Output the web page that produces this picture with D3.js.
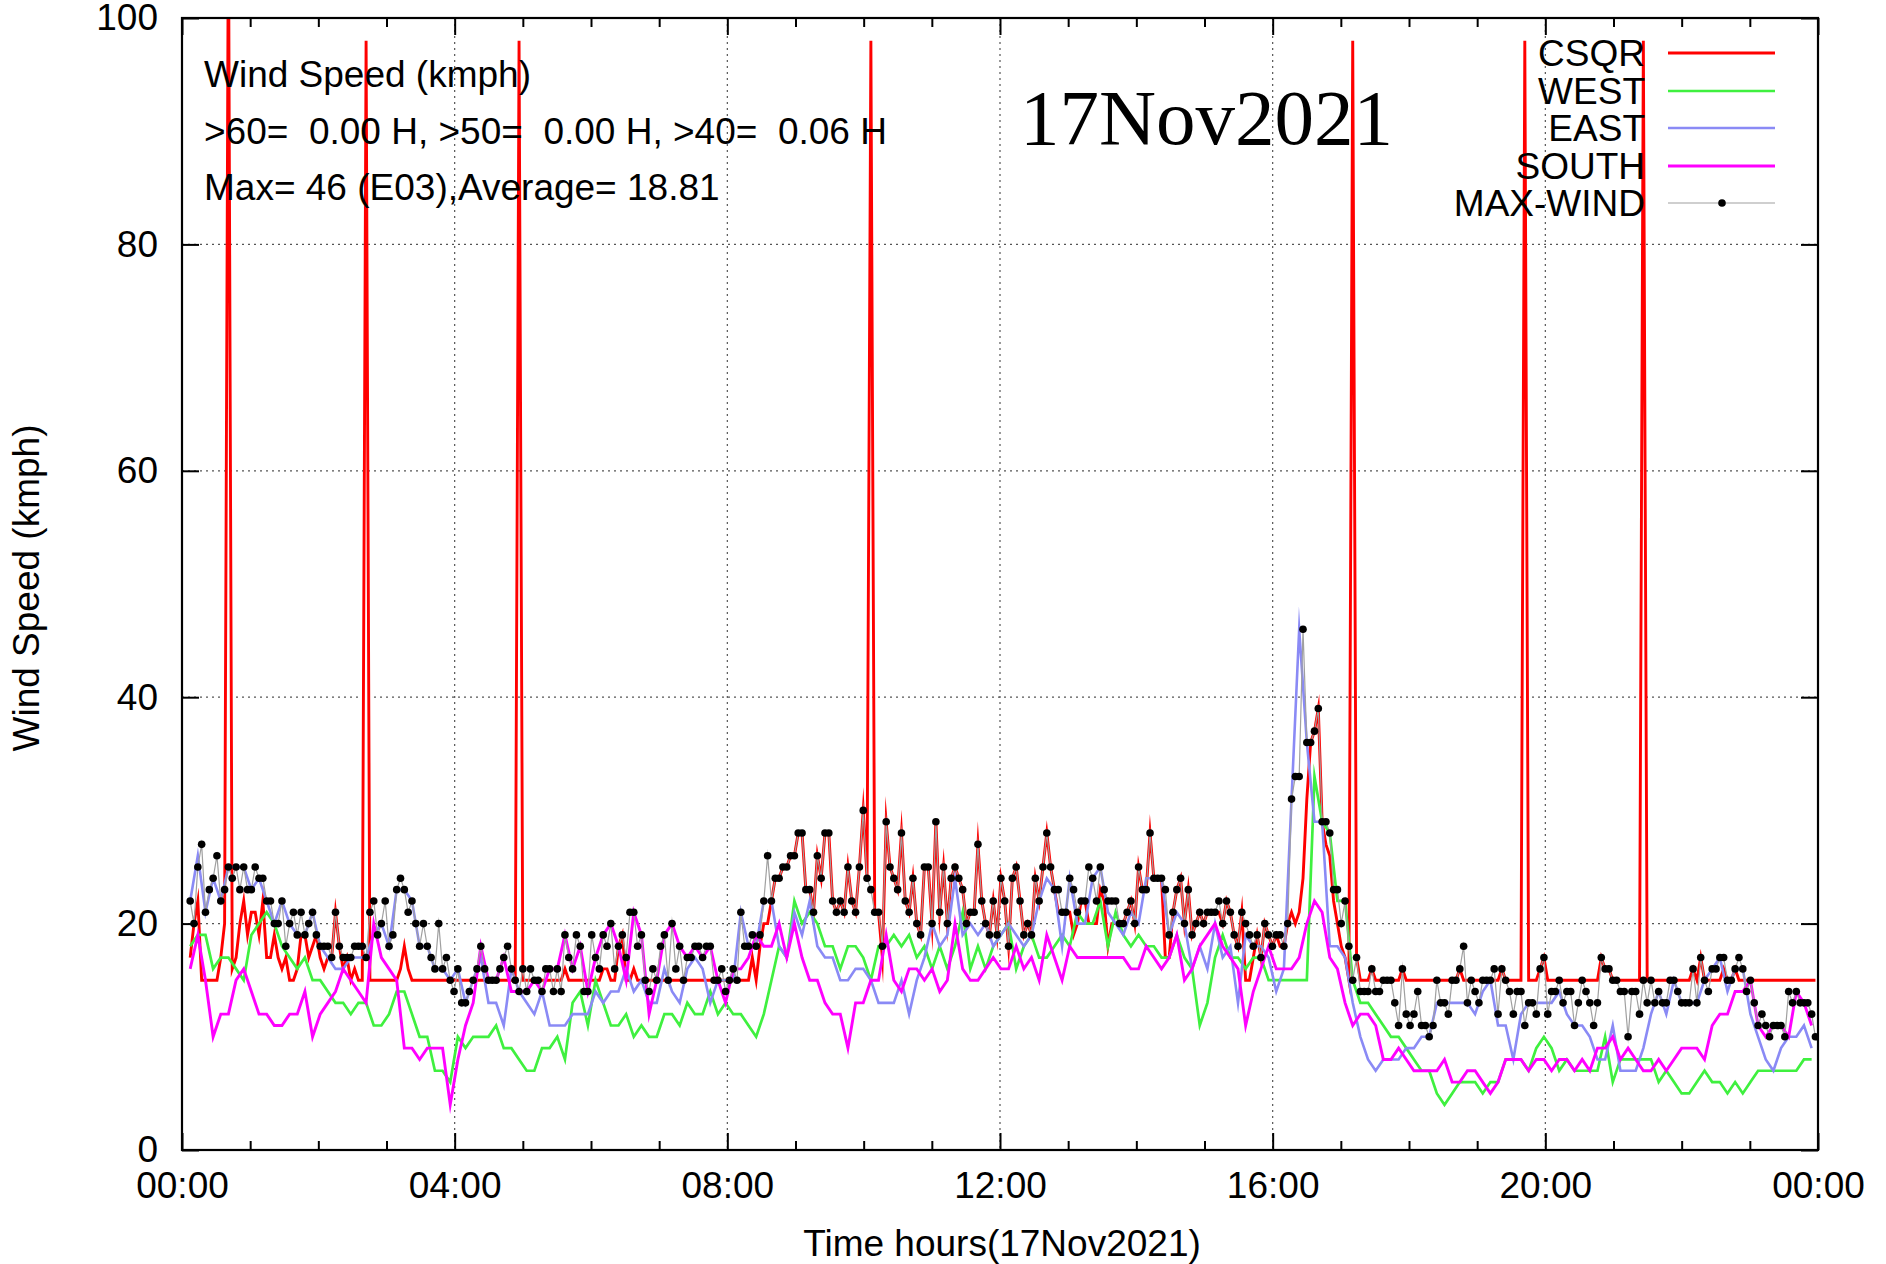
<!DOCTYPE html>
<html>
<head>
<meta charset="utf-8">
<script src="https://cdn.jsdelivr.net/npm/d3@7"></script>
<style>
  html, body { margin: 0; padding: 0; background: #fff; }
  svg { display: block; }
  text { font-family: "Liberation Sans", Arial, sans-serif; }
</style>
</head>
<body>
<svg id="chart" width="1886" height="1264"></svg>
<script>
// ---------------- DATA ----------------
const titleText = "17Nov2021";
const yAxisTitle = "Wind Speed (kmph)";
const xAxisTitle = "Time hours(17Nov2021)";
const infoLines = [
  "Wind Speed (kmph)",
  ">60=  0.00 H, >50=  0.00 H, >40=  0.06 H",
  "Max= 46 (E03),Average= 18.81"
];
const xTickHours = [0, 4, 8, 12, 16, 20, 24];
const xTickLabels = ["00:00", "04:00", "08:00", "12:00", "16:00", "20:00", "00:00"];
const xMinorHours = [1,2,3,5,6,7,9,10,11,13,14,15,17,18,19,21,22,23];
const yTicks = [0, 20, 40, 60, 80, 100];
const seriesNames = ["CSQR", "WEST", "EAST", "SOUTH", "MAX-WIND"];

// sampling: first sample time (hours) and interval between samples (hours)
const startHour = 0.12;
const stepHours = 0.0561;      // CSQR and MAX-WIND every sample
const stepHoursHalf = 0.1122;  // WEST, EAST, SOUTH read every other sample

const csqr = [
  17,20,22,15,15,15,15,15,17,20, 110,16,17,20,22,19,21,21,19,22, 17,17,19,17,16,17,15,15,16,19,
  19,17,18,19,17,16,17,17,21,18, 16,17,15,16,15,15,98,15,15,15, 15,15,15,15,15,16,18,16,15,15,
  15,15,15,15,15,15,15,15,15,15,15,
  15,15,15,15,15,15,15,15,15,15, 15,15,15,15,15,98,15,15,15,15, 15,15,15,15,15,15,15,16,15,15,
  15,15,15,15,15,15,15,16,16,15, 15,18,19,15,15,16,15,15,15,15, 15,15,15,15,15,15,15,15,15,15,
  15,15,15,15,15,15,15,15,15,15, 15,15,
  15,15,15,15,17,15,18,20,20,22, 24,24,25,25,26,26,28,28,23,23, 21,26,24,28,28,22,21,22,21,25,
  22,21,25,30,24,98,21,21,17,29, 25,24,23,28,22,21,24,20,19,25, 25,20,29,21,25,20,24,25,24,23,
  20,21,21,27,22,20,19,22,19,24, 22,18,
  24,25,22,19,20,19,24,22,25,28, 25,23,21,21,21,21,19,20,22,22, 20,20,20,23,22,18,20,20,20,20,
  21,22,20,25,23,23,28,24,24,24, 17,17,21,23,24,20,23,19,20,21, 20,21,21,21,21,20,22,21,19,18,
  21,15,15,17,19,17,20,19,18,19,
  18,18,20,21,20,21,24,31,36,37, 39,29,27,26,22,20,18,17,15,98, 17,15,15,15,16,15,15,15,15,15,
  15,15,16,15,15,15,15,15,15,15, 15,15,15,15,15,15,15,16,15,15, 15,15,15,15,15,15,15,15,16,15,
  15,15,15,15,98,15,15,15,16,17, 15,15,
  15,15,15,15,15,15,15,15,15,15, 15,15,17,16,16,15,15,15,15,15, 15,15,15,98,15,15,15,15,15,15,
  15,15,15,15,15,15,16,15,17,15, 15,15,15,15,16,15,15,16,15,15, 15,15,15,15,15,15,15,15,15,15,
  15,15,15,15,15,15,15,15,15
];

const maxWind = [
  22,20,25,27,21,23,24,26,22,23, 25,24,25,23,25,23,23,25,24,24, 22,22,20,20,22,18,20,21,19,21,
  19,20,21,19,18,18,18,17,21,18, 17,17,17,18,18,18,17,21,22,19, 20,22,18,19,23,24,23,21,22,20,
  18,20,18,17,16,20,16,17,15,14,16,
  13,13,14,15,16,18,16,15,15,15, 16,17,18,16,15,14,16,14,16,15, 15,14,16,16,14,16,14,19,17,16,
  19,18,14,14,19,17,16,19,18,20, 16,18,19,17,21,21,18,19,15,14, 16,15,18,19,15,20,16,18,15,17,
  17,18,18,17,18,18,15,15,16,14, 15,16,
  15,21,18,18,19,18,19,22,26,22, 24,24,25,25,26,26,28,28,23,23, 21,26,24,28,28,22,21,22,21,25,
  22,21,25,30,24,23,21,21,18,29, 25,24,23,28,22,21,24,20,19,25, 25,20,29,21,25,20,24,25,24,23,
  20,21,21,27,22,20,19,22,19,24, 22,18,
  24,25,22,19,20,19,24,22,25,28, 25,23,23,21,21,24,23,21,22,22, 25,24,22,25,23,22,22,22,20,20,
  21,22,20,25,23,23,28,24,24,24, 23,19,21,23,24,20,23,19,20,21, 20,21,21,21,22,20,22,21,19,18,
  21,20,19,18,19,17,20,19,18,19,
  19,18,20,31,33,33,46,36,36,37, 39,29,29,28,23,23,20,22,18,15, 17,14,14,14,16,14,14,15,15,15,
  13,11,16,12,11,12,14,11,11,10, 11,15,13,13,12,15,15,16,18,13, 15,14,13,15,15,15,16,12,16,15,
  14,12,14,14,11,13,13,12,16,17, 12,14,
  14,15,13,14,14,11,13,15,14,13, 11,13,17,16,16,15,15,14,14,10, 14,14,12,15,13,15,13,14,13,13,
  15,15,14,13,13,13,16,13,17,15, 14,16,16,17,17,15,15,16,17,16, 14,15,13,11,12,11,10,11,11,11,
  10,14,13,14,13,13,13,12,10
];

const west = [
  18,19,19,16,17,17,16,15,19,20, 21,20,18,17,16,17,15,15,14,13, 13,12,13,13,11,11,12,14,14,12,
  10,10,7,7,6,10,
  9,10,10,10,11,9,9,8,7,7, 9,9,10,8,13,14,11,15,13,11, 11,12,10,11,10,10,12,12,11,13, 12,12,14,12,13,12,
  12,11,10,12,15,18,17,22,20,21, 20,18,18,16,18,18,17,15,18,18, 19,18,19,17,18,16,18,16,18,21,
  16,18,16,18,19,20,
  16,18,19,17,17,18,19,18,21,20, 20,22,18,21,19,18,19,18,18,17, 17,19,17,16,11,13,17,19,17,17,
  16,17,17,15,15,
  15,15,15,15,33,29,28,22,22,15, 13,13,12,11,10,10,9,8,7,7, 5,4,5,6,6,6,5,6,6,8, 8,8,7,9,10,9,
  7,8,7,7,7,7,10,6,8,8, 8,8,8,6,7,6,5,5,6,7, 6,6,5,6,5,6,7,7,7,7, 7,7,8,8
];

const east = [
  22,26,21,24,22,25,25,25,23,24, 22,20,22,20,19,19,21,18,17,16, 16,17,17,17,19,20,18,23,23,22,
  18,18,16,16,15,16,
  13,15,17,13,13,11,16,14,13,12, 14,11,11,11,12,12,12,14,13,14, 14,16,14,15,13,13,16,14,13,16,
  17,16,13,15,15,15,
  21,18,18,22,22,18,17,21,19,22, 18,17,17,15,15,16,16,15,13,13, 13,15,12,15,17,20,18,19,24,19,
  20,19,20,18,19,20,
  19,18,19,22,24,23,18,24,20,20, 24,25,21,20,19,21,20,24,24,24, 19,21,20,16,18,16,20,17,18,13,
  19,18,18,17,14,
  16,31,46,36,29,29,18,18,17,13, 10,8,7,8,8,8,9,9,10,10, 13,13,13,13,13,12,14,15,11,11,
  8,12,13,13,13,13,
  14,12,11,11,10,8,8,11,7,7, 7,9,12,14,12,15,13,13,13,15, 16,17,14,16,16,12,10,8,7,9, 10,10,11,9
];

const south = [
  16,19,15,10,12,12,15,16,14,12, 12,11,11,12,12,14,10,12,13,14, 16,15,14,13,20,17,16,15,9,9,
  8,9,9,9,4,8,
  11,13,18,15,15,17,14,14,14,15, 14,16,16,19,16,18,14,17,19,20, 18,15,21,19,12,15,19,20,18,17,
  18,17,18,15,13,16,
  16,17,19,18,18,20,17,20,17,15, 15,13,12,12,9,13,13,15,15,19, 15,14,16,16,15,16,14,15,20,16,
  15,15,16,17,16,16,
  18,16,17,15,19,17,15,18,17,17, 17,17,17,17,17,16,16,18,17,16, 17,19,15,16,18,19,20,18,17,16,
  11,14,16,18,16,
  16,16,17,20,22,21,17,16,13,11, 12,12,11,8,8,9,8,7,7,7, 7,8,6,6,7,7,6,5,6,8, 8,8,7,8,8,7,
  8,8,7,8,7,9,9,10,8,9, 8,7,7,8,7,8,9,9,9,8, 11,12,12,14,14,15,11,10,11,11, 10,14,13,11
];

// ---------------- STYLE ----------------
const W = 1886, H = 1264;
const plot = { left: 182, right: 1818, top: 18, bottom: 1150 };
const FONT = 37;
const colors = { CSQR: "#ff0000", WEST: "#3ff03f", EAST: "#8a8af5", SOUTH: "#ff00ff", MAX: "#a0a0a0" };
const widths = { CSQR: 2.9, WEST: 2.7, EAST: 2.6, SOUTH: 2.9, MAX: 1.2 };

const svg = d3.select("#chart");
svg.append("rect").attr("width", W).attr("height", H).attr("fill", "#fff");

const x = d3.scaleLinear().domain([0, 24]).range([plot.left, plot.right]);
const y = d3.scaleLinear().domain([0, 100]).range([plot.bottom, plot.top]);

// clip
svg.append("defs").append("clipPath").attr("id", "clip")
  .append("rect").attr("x", plot.left).attr("y", plot.top)
  .attr("width", plot.right - plot.left).attr("height", plot.bottom - plot.top);

// grid
const grid = svg.append("g").attr("stroke", "#555").attr("stroke-width", 1.2)
  .attr("stroke-dasharray", "2,4");
grid.selectAll("line.gx").data(xTickHours.slice(1, -1)).join("line")
  .attr("x1", d => x(d)).attr("x2", d => x(d)).attr("y1", plot.top).attr("y2", plot.bottom);
grid.selectAll("line.gy").data(yTicks.slice(1, -1)).join("line")
  .attr("y1", d => y(d)).attr("y2", d => y(d)).attr("x1", plot.left).attr("x2", plot.right);

// axes
function styleAxis(g) {
  g.select(".domain").remove();
  g.selectAll(".tick line").attr("stroke", "#000").attr("stroke-width", 2);
  g.selectAll(".tick text").attr("font-size", FONT).attr("fill", "#000")
    .attr("font-family", "'Liberation Sans', Arial, sans-serif");
}
svg.append("g").attr("transform", `translate(0,${plot.bottom})`)
  .call(d3.axisBottom(x).tickValues(xTickHours).tickFormat((d, i) => xTickLabels[i])
    .tickSizeInner(-17).tickSizeOuter(0).tickPadding(22))
  .call(styleAxis);
svg.append("g").attr("transform", `translate(0,${plot.bottom})`)
  .call(d3.axisBottom(x).tickValues(xMinorHours).tickFormat("").tickSizeInner(-9).tickSizeOuter(0))
  .call(styleAxis);
svg.append("g").attr("transform", `translate(0,${plot.top})`)
  .call(d3.axisTop(x).tickValues(xTickHours).tickFormat("").tickSizeInner(-17).tickSizeOuter(0))
  .call(styleAxis);
svg.append("g").attr("transform", `translate(0,${plot.top})`)
  .call(d3.axisTop(x).tickValues(xMinorHours).tickFormat("").tickSizeInner(-9).tickSizeOuter(0))
  .call(styleAxis);
svg.append("g").attr("transform", `translate(${plot.left},0)`)
  .call(d3.axisLeft(y).tickValues(yTicks).tickFormat(d3.format("d"))
    .tickSizeInner(-17).tickSizeOuter(0).tickPadding(24))
  .call(styleAxis);
svg.append("g").attr("transform", `translate(${plot.right},0)`)
  .call(d3.axisRight(y).tickValues(yTicks).tickFormat("").tickSizeInner(-17).tickSizeOuter(0))
  .call(styleAxis);

// series
const fullTime = i => startHour + i * stepHours;
const halfTime = i => startHour + i * stepHoursHalf;
const lineFull = d3.line().x((d, i) => x(fullTime(i))).y(d => y(d));
const lineHalf = d3.line().x((d, i) => x(halfTime(i))).y(d => y(d));

const series = svg.append("g").attr("clip-path", "url(#clip)").attr("fill", "none")
  .attr("stroke-linejoin", "miter").attr("stroke-miterlimit", 20);
series.append("path").datum(csqr).attr("d", lineFull).attr("stroke", colors.CSQR).attr("stroke-width", widths.CSQR);
series.append("path").datum(west).attr("d", lineHalf).attr("stroke", colors.WEST).attr("stroke-width", widths.WEST);
series.append("path").datum(east).attr("d", lineHalf).attr("stroke", colors.EAST).attr("stroke-width", widths.EAST);
series.append("path").datum(south).attr("d", lineHalf).attr("stroke", colors.SOUTH).attr("stroke-width", widths.SOUTH);
series.append("path").datum(maxWind).attr("d", lineFull).attr("stroke", colors.MAX).attr("stroke-width", widths.MAX);
series.append("g").selectAll("circle").data(maxWind).join("circle")
  .attr("cx", (d, i) => x(fullTime(i))).attr("cy", d => y(d)).attr("r", 3.8).attr("fill", "#000");

// border
svg.append("rect").attr("x", plot.left).attr("y", plot.top)
  .attr("width", plot.right - plot.left).attr("height", plot.bottom - plot.top)
  .attr("fill", "none").attr("stroke", "#000").attr("stroke-width", 2.2);

// info text
svg.append("g").selectAll("text").data(infoLines).join("text")
  .attr("x", 204).attr("y", (d, i) => 87 + i * 56.5)
  .attr("font-size", FONT).attr("fill", "#000").style("white-space", "pre")
  .attr("xml:space", "preserve").text(d => d);

// title
svg.append("text").attr("x", 1020).attr("y", 144)
  .style("font-family", "'Liberation Serif', 'Times New Roman', serif")
  .attr("font-size", 79).attr("fill", "#000").text(titleText);

// axis titles
svg.append("text").attr("x", (plot.left + plot.right) / 2 + 2).attr("y", 1256)
  .attr("text-anchor", "middle").attr("font-size", FONT).text(xAxisTitle);
svg.append("text").attr("transform", `translate(39,${(plot.top + plot.bottom) / 2 + 4}) rotate(-90)`)
  .attr("text-anchor", "middle").attr("font-size", FONT).text(yAxisTitle);

// legend
const legendY = [53, 91, 128, 166, 203];
const legend = svg.append("g");
const legendColors = [colors.CSQR, colors.WEST, colors.EAST, colors.SOUTH, colors.MAX];
const legendWidths = [widths.CSQR, widths.WEST, widths.EAST, widths.SOUTH, widths.MAX];
seriesNames.forEach((name, i) => {
  legend.append("text").attr("x", 1645).attr("y", legendY[i]).attr("dy", "0.36em")
    .attr("text-anchor", "end").attr("font-size", FONT).text(name);
  legend.append("line").attr("x1", 1668).attr("x2", 1775)
    .attr("y1", legendY[i]).attr("y2", legendY[i])
    .attr("stroke", legendColors[i]).attr("stroke-width", legendWidths[i]);
  if (name === "MAX-WIND") {
    legend.append("circle").attr("cx", 1722).attr("cy", legendY[i]).attr("r", 3.8).attr("fill", "#000");
  }
});
</script>
</body>
</html>
